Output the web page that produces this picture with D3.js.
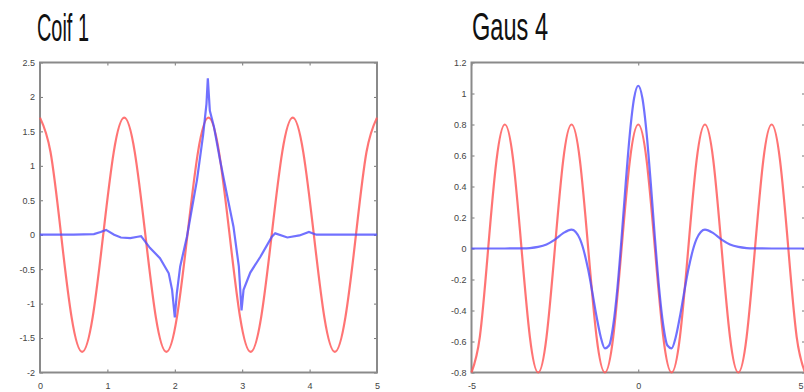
<!DOCTYPE html>
<html>
<head>
<meta charset="utf-8">
<script src="https://cdn.jsdelivr.net/npm/d3@7"></script>
<style>
  body { margin: 0; background: #fff; }
  svg { display: block; }
  .tick text { font-family: "Liberation Sans", Arial, sans-serif; font-size: 9px; fill: #444; }
  .tick line { stroke: #777; }
</style>
</head>
<body>
<script>
// Wavelet vs cosine comparison, two panels

// Coif 1 panel data
var coifXTicks = [0, 1, 2, 3, 4, 5];
var coifYTicks = [-2, -1.5, -1, -0.5, 0, 0.5, 1, 1.5, 2, 2.5];

var coifCosX = [0, 0.156, 0.313, 0.469, 0.625, 0.781, 0.938, 1.094, 1.25, 1.406, 1.563, 1.719, 1.875, 2.031, 2.188, 2.344,
    2.5, 2.656, 2.813, 2.969, 3.125, 3.281, 3.438, 3.594, 3.75, 3.906, 4.063, 4.219, 4.375, 4.531, 4.688, 4.844, 5];
var coifCosY = [1.7, 1.2, 0, -1.2, -1.7, -1.2, 0, 1.2, 1.7, 1.2, 0, -1.2, -1.7, -1.2, 0, 1.2,
    1.7, 1.2, 0, -1.2, -1.7, -1.2, 0, 1.2, 1.7, 1.2, 0, -1.2, -1.7, -1.2, 0, 1.2, 1.7];

var coifWavX = [0, 0.5, 0.8, 0.9, 0.98, 1.1, 1.2, 1.34, 1.45, 1.5, 1.63, 1.78, 1.91, 1.96, 2.0, 2.03, 2.08, 2.18,
    2.33, 2.42, 2.47, 2.49, 2.52, 2.58, 2.67, 2.77, 2.87, 2.95, 2.99, 3.02, 3.12, 3.27, 3.44, 3.49, 3.67, 3.85, 3.99, 4.1, 5];
var coifWavY = [0, 0, 0.01, 0.04, 0.07, 0.0, -0.04, -0.05, -0.03, -0.02, -0.19, -0.34, -0.56, -0.8, -1.2, -0.85, -0.46, -0.03,
    0.8, 1.45, 1.9, 2.27, 1.8, 1.57, 1.09, 0.6, 0.12, -0.46, -1.1, -0.8, -0.55, -0.32, -0.03, 0.02, -0.04, -0.01, 0.04, 0, 0];

// Gaus 4 panel data
var gausXTicks = [-5, 0, 5];
var gausYTicks = [-0.8, -0.6, -0.4, -0.2, 0, 0.2, 0.4, 0.6, 0.8, 1, 1.2];

var gausCosX = [-5, -4.75, -4.5, -4.25, -4, -3.75, -3.5, -3.25, -3, -2.75, -2.5, -2.25, -2, -1.75, -1.5, -1.25, -1, -0.75, -0.5, -0.25,
    0, 0.25, 0.5, 0.75, 1, 1.25, 1.5, 1.75, 2, 2.25, 2.5, 2.75, 3, 3.25, 3.5, 3.75, 4, 4.25, 4.5, 4.75, 5];
var gausCosY = [-0.8, -0.57, 0, 0.57, 0.8, 0.57, 0, -0.57, -0.8, -0.57, 0, 0.57, 0.8, 0.57, 0, -0.57, -0.8, -0.57, 0, 0.57,
    0.8, 0.57, 0, -0.57, -0.8, -0.57, 0, 0.57, 0.8, 0.57, 0, -0.57, -0.8, -0.57, 0, 0.57, 0.8, 0.57, 0, -0.57, -0.8];

var gausWavX = [-5, -4.5, -4, -3.5, -3.25, -3, -2.75, -2.5, -2.25, -2, -1.75, -1.5, -1.375, -1.25, -1.125, -1, -0.875, -0.75, -0.625, -0.5, -0.375, -0.25, -0.125,
    0, 0.125, 0.25, 0.375, 0.5, 0.625, 0.75, 0.875, 1, 1.125, 1.25, 1.375, 1.5, 1.75, 2, 2.25, 2.5, 2.75, 3, 3.25, 3.5, 4, 4.5, 5];
var gausWavY = [0, 0, 0, 0.001, 0.003, 0.01, 0.026, 0.057, 0.099, 0.122, 0.062, -0.138, -0.285, -0.439, -0.571, -0.644, -0.626, -0.495, -0.255, 0.068, 0.423, 0.745, 0.969,
    1.05, 0.969, 0.745, 0.423, 0.068, -0.255, -0.495, -0.626, -0.644, -0.571, -0.439, -0.285, -0.138, 0.062, 0.122, 0.099, 0.057, 0.026, 0.01, 0.003, 0.001, 0, 0, 0];

var w = 804;
var h = 392;

var svg = d3.select("body").append("svg")
    .attr("width", w)
    .attr("height", h);

function zip(xs, ys) {
    return xs.map(function(x, i) { return [x, ys[i]]; });
}

function drawPanel(p) {
    var x = d3.scaleLinear().domain(p.xDomain).range([p.left, p.right]);
    var y = d3.scaleLinear().domain(p.yDomain).range([p.bottom, p.top]);

    var g = svg.append("g");

    // title
    g.append("text")
        .attr("x", p.titleX)
        .attr("y", p.titleY)
        .attr("textLength", p.titleW)
        .attr("lengthAdjust", "spacingAndGlyphs")
        .style("font-family", "'Liberation Sans', Arial, sans-serif")
        .style("font-size", "38px")
        .style("fill", "#111")
        .text(p.title);

    // axes, ticks pointing inward
    var xAxis = g.append("g")
        .attr("transform", "translate(0," + p.bottom + ")")
        .call(d3.axisBottom(x).tickValues(p.xTicks).tickSize(-3).tickPadding(10).tickFormat(function(d) { return d; }))
        .call(function(s) { s.select(".domain").remove(); });
    // keep a label that would fall past the right edge inside the picture
    xAxis.selectAll(".tick text")
        .filter(function(d) { return x(d) > w - 4; })
        .attr("text-anchor", "end")
        .attr("x", w - 1 - x(p.xDomain[1]));

    g.append("g")
        .attr("transform", "translate(0," + p.top + ")")
        .call(d3.axisTop(x).tickValues(p.xTicks).tickSize(-3).tickFormat(""))
        .call(function(s) { s.select(".domain").remove(); });
    g.append("g")
        .attr("transform", "translate(" + p.left + ",0)")
        .call(d3.axisLeft(y).tickValues(p.yTicks).tickSize(-3).tickPadding(5).tickFormat(function(d) { return d; }))
        .call(function(s) { s.select(".domain").remove(); });
    g.append("g")
        .attr("transform", "translate(" + p.right + ",0)")
        .call(d3.axisRight(y).tickValues(p.yTicks).tickSize(-3).tickFormat(""))
        .call(function(s) { s.select(".domain").remove(); });

    // box
    g.append("rect")
        .attr("x", p.left)
        .attr("y", p.top)
        .attr("width", p.right - p.left)
        .attr("height", p.bottom - p.top)
        .style("fill", "none")
        .style("stroke", "#8a8a8a")
        .style("stroke-width", 2);

    var lineSmooth = d3.line()
        .x(function(d) { return x(d[0]); })
        .y(function(d) { return y(d[1]); })
        .curve(d3.curveNatural);

    var lineWav = d3.line()
        .x(function(d) { return x(d[0]); })
        .y(function(d) { return y(d[1]); })
        .curve(p.wavCurve);

    g.append("path")
        .attr("d", lineSmooth(zip(p.cosX, p.cosY)))
        .style("fill", "none")
        .style("stroke", "#ff5c5c")
        .style("stroke-opacity", 0.85)
        .style("stroke-width", 2.2);

    g.append("path")
        .attr("d", lineWav(zip(p.wavX, p.wavY)))
        .style("fill", "none")
        .style("stroke", "#4d4dff")
        .style("stroke-opacity", 0.8)
        .style("stroke-width", 2.2);
}

drawPanel({
    title: "Coif 1", titleX: 37, titleY: 41, titleW: 52,
    xDomain: [0, 5], yDomain: [-2, 2.5],
    left: 40, right: 377, top: 62.5, bottom: 372.5,
    xTicks: coifXTicks, yTicks: coifYTicks,
    cosX: coifCosX, cosY: coifCosY,
    wavX: coifWavX, wavY: coifWavY,
    wavCurve: d3.curveLinear
});

drawPanel({
    title: "Gaus 4", titleX: 472, titleY: 39.5, titleW: 76,
    xDomain: [-5, 5], yDomain: [-0.8, 1.2],
    left: 471.5, right: 805, top: 62.5, bottom: 372.5,
    xTicks: gausXTicks, yTicks: gausYTicks,
    cosX: gausCosX, cosY: gausCosY,
    wavX: gausWavX, wavY: gausWavY,
    wavCurve: d3.curveMonotoneX
});
</script>
</body>
</html>
